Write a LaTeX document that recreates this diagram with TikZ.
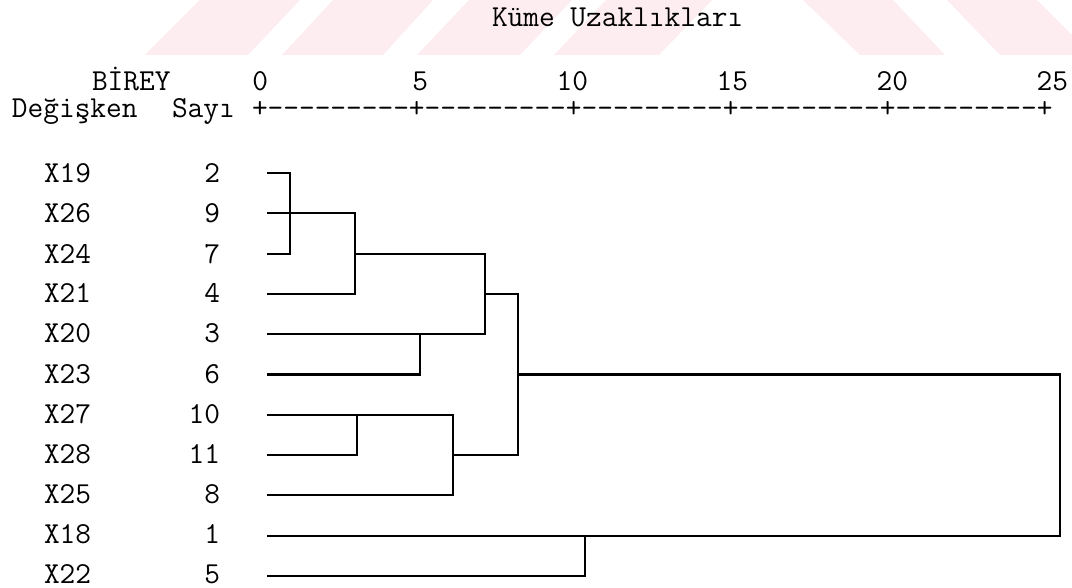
\documentclass[tikz,border=0pt]{standalone}
\usepackage{fontspec}
\definecolor{wmpink}{RGB}{253,236,240}
% nine hyphens, kept apart so no ligature forms
\newcommand\axdash{-{}-{}-{}-{}-{}-{}-{}-{}-{}}
\begin{document}
\begin{tikzpicture}[x=0.75pt,y=-0.75pt,
  txt/.style={font=\ttfamily\fontsize{22.86pt}{24pt}\selectfont, inner sep=0pt, outer sep=0pt},
  lbl/.style={txt, anchor=base west},
  num/.style={txt, anchor=base east},
  link/.style={line width=1.6pt, line join=miter},
  band/.style={fill=wmpink, draw=none}]
\useasboundingbox (0,0) rectangle (1072,588);

% faint striped band along the top
\fill[band] (145,55) -- (200,0) -- (300,0) -- (248,55) -- cycle;
\fill[band] (282,55) -- (333,0) -- (433,0) -- (383,55) -- cycle;
\fill[band] (417,55) -- (469,0) -- (572,0) -- (520,55) -- cycle;
\fill[band] (554,55) -- (606,0) -- (712,0) -- (659,55) -- cycle;
\fill[band] (803,0) -- (893,0) -- (945,55) -- (860,55) -- cycle;
\fill[band] (947,0) -- (1037,0) -- (1072,35) -- (1072,55) -- (1000,55) -- cycle;

% header
\node[lbl] (title) at (492,27) {Küme Uzaklıkları};
\node[lbl] (birey) at (92,91) {BİREY};
\node[num] (t0)  at (268,91) {0};
\node[num] (t5)  at (428,91) {5};
\node[num] (t10) at (588,91) {10};
\node[num] (t15) at (748,91) {15};
\node[num] (t20) at (908,91) {20};
\node[num] (t25) at (1068,91) {25};
\node[lbl] (degisken) at (12,118) {Değişken};
\node[lbl] (sayi) at (172,118) {Sayı};
\node[lbl] (axis) at (252,118) {+\axdash+\axdash+\axdash+\axdash+\axdash+};

% leaves: variable, case number, start of its line
\foreach \v/\n [count=\i from 0] in {X19/2,X26/9,X24/7,X21/4,X20/3,X23/6,X27/10,X28/11,X25/8,X18/1,X22/5}{
  \pgfmathsetmacro\yy{173+40.3*\i}
  \pgfmathsetmacro\yt{183+40*\i}
  \node[lbl] (var\i) at (44,\yt) {\v};
  \node[num] (cnt\i) at (220,\yt) {\n};
  \coordinate (l\i) at (267,\yy);
}

% merge points
\coordinate (k1) at (290,0 |- l1);
\coordinate (k2) at (355,0 |- l2);
\coordinate (k3) at (420,0 |- l4);
\coordinate (k4) at (485,0 |- l3);
\coordinate (k5) at (357,0 |- l6);
\coordinate (k6) at (453,0 |- l7);
\coordinate (k7) at (518,0 |- l5);
\coordinate (k8) at (585,0 |- l9);
\coordinate (k9) at (1060,0 |- l7);

% dendrogram
\draw[link] (l0) -| (k1);
\draw[link] (l2) -| (k1);
\draw[link] (l1) -- (k1);
\draw[link] (k1) -| (k2);
\draw[link] (l3) -| (k2);
\draw[link] (l4) -- (k3);
\draw[link] (l5) -| (k3);
\draw[link] (k2) -| (k4);
\draw[link] (k3) -| (k4);
\draw[link] (l6) -- (k5);
\draw[link] (l7) -| (k5);
\draw[link] (k5) -| (k6);
\draw[link] (l8) -| (k6);
\draw[link] (k4) -| (k7);
\draw[link] (k6) -| (k7);
\draw[link] (l9) -- (k8);
\draw[link] (l10) -| (k8);
\draw[link] (k7) -| (k9);
\draw[link] (k8) -| (k9);
\end{tikzpicture}
\end{document}
